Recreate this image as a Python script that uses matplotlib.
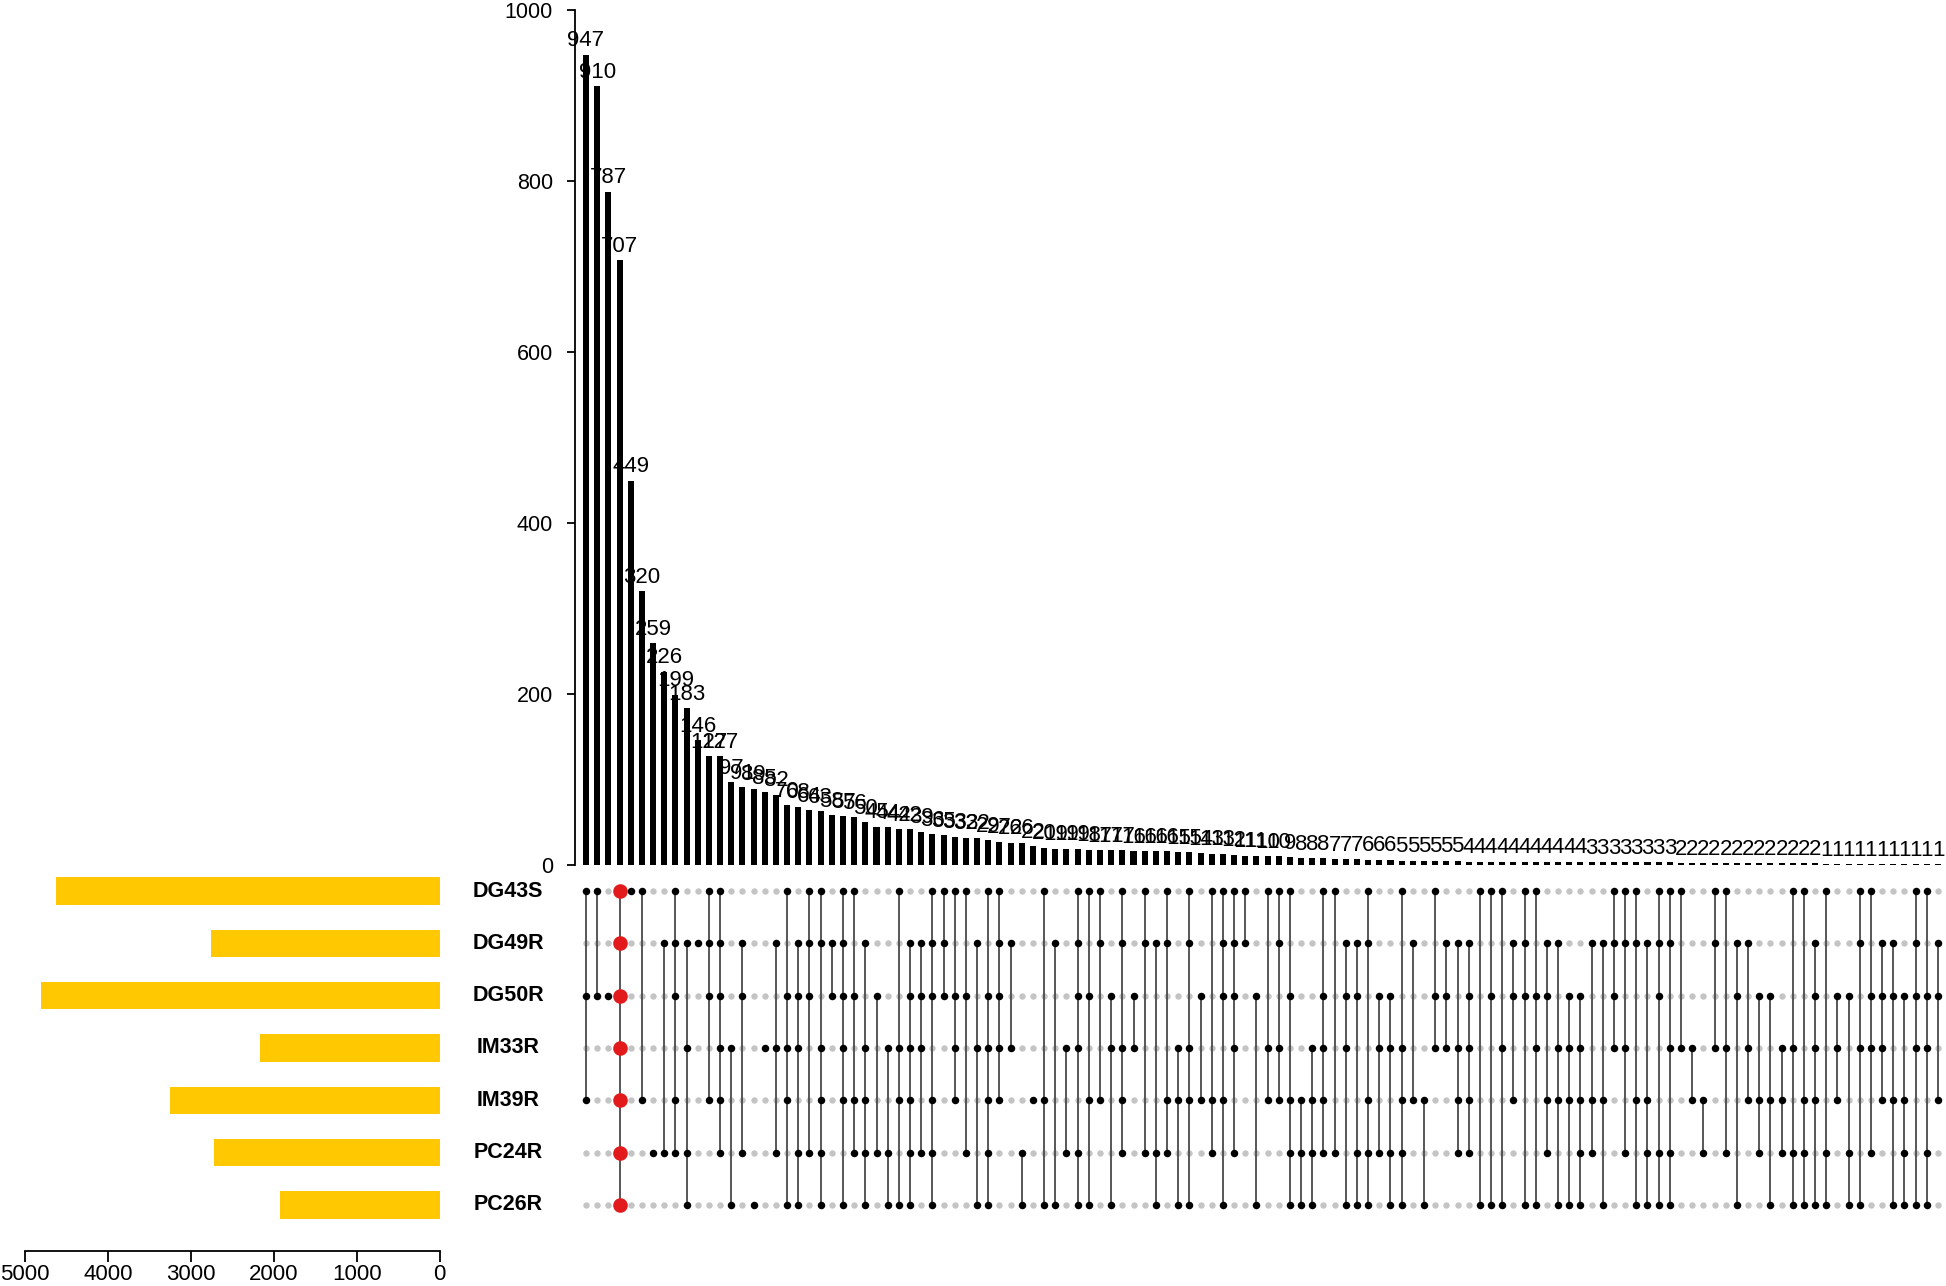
import matplotlib
matplotlib.use("Agg")
import matplotlib.pyplot as plt
import matplotlib.transforms as mtransforms

plt.rcParams['font.family'] = ['Liberation Sans', 'DejaVu Sans']

# set sizes (left bars)
set_names = ["DG43S", "DG49R", "DG50R", "IM33R", "IM39R", "PC24R", "PC26R"]
set_sizes = [4628, 2758, 4812, 2166, 3247, 2717, 1924]

# intersection sizes, in plotted order
counts = [947, 910, 787, 707, 449, 320, 259, 226, 199, 183,
          146, 127, 127, 97, 91, 89, 85, 82, 70, 68,
          64, 63, 58, 57, 56, 50, 45, 44, 42, 42,
          39, 36, 35, 33, 32, 32, 29, 27, 26, 26,
          22, 20, 19, 19, 19, 18, 17, 17, 17, 16,
          16, 16, 16, 15, 15, 14, 13, 13, 12, 11,
          11, 10, 10, 9, 8, 8, 8, 7, 7, 7,
          6, 6, 6, 5, 5, 5, 5, 5, 5, 4,
          4, 4, 4, 4, 4, 4, 4, 4, 4, 4,
          3, 3, 3, 3, 3, 3, 3, 3, 2, 2,
          2, 2, 2, 2, 2, 2, 2, 2, 2, 2,
          2, 1, 1, 1, 1, 1, 1, 1, 1, 1,
          1, 1]

# which intersections (column index) contain each set
members = {
    "DG43S": [0, 1, 3, 4, 5, 8, 11, 12, 18, 20, 21, 23, 24, 28, 31, 32, 33, 34, 36, 37,
              41, 44, 45, 46, 48, 50, 52, 54, 56, 57, 58, 59, 61, 62, 63, 66, 67, 70, 73, 76,
              80, 81, 82, 84, 85, 92, 93, 94, 96, 97, 98, 101, 102, 108, 109, 111, 114, 115,
              119, 120],
    "DG49R": [3, 7, 8, 9, 10, 11, 12, 14, 17, 19, 20, 21, 22, 23, 25, 29, 30, 31, 32, 35, 37, 38,
              42, 44, 46, 48, 50, 51, 52, 54, 57, 58, 59, 62, 68, 69, 70, 74, 77, 78, 79,
              83, 84, 86, 87, 90, 91, 92, 93, 94, 95, 96, 97, 101, 103, 104, 110, 114, 116,
              117, 119, 121],
    "DG50R": [0, 1, 2, 3, 8, 11, 12, 14, 18, 19, 20, 22, 23, 24, 26, 29, 30, 31, 32, 33, 34, 36, 37,
              44, 45, 47, 49, 55, 57, 58, 60, 63, 66, 68, 69, 71, 72, 76, 77, 79,
              81, 83, 84, 85, 86, 88, 89, 92, 96, 103, 105, 106, 110, 112, 113, 115, 116, 117,
              118, 119, 120, 121],
    "IM33R": [3, 9, 12, 13, 16, 17, 18, 19, 21, 23, 25, 27, 28, 29, 30, 33, 35, 36, 37, 38,
              43, 44, 47, 48, 49, 53, 54, 58, 61, 62, 65, 66, 68, 71, 72, 73, 76, 77, 78, 79,
              82, 85, 87, 88, 89, 92, 93, 97, 98, 99, 101, 102, 104, 107, 108, 110, 112, 114,
              115, 116, 119, 120],
    "IM39R": [0, 3, 5, 8, 11, 12, 18, 21, 23, 24, 25, 28, 29, 31, 33, 36, 37,
              40, 41, 45, 46, 48, 52, 53, 54, 55, 56, 57, 61, 62, 63, 64, 65, 66, 70, 73, 74, 75,
              78, 79, 83, 86, 87, 88, 89, 90, 91, 94, 95, 99, 100, 104, 105, 106, 107, 109, 110,
              112, 116, 117, 118, 121],
    "PC24R": [3, 6, 7, 8, 9, 12, 14, 17, 19, 20, 21, 24, 25, 26, 27, 29, 30, 31, 34, 36, 39,
              43, 44, 48, 50, 51, 52, 56, 58, 63, 64, 65, 66, 67, 69, 70, 71, 72, 73, 78, 79,
              86, 89, 90, 93, 95, 96, 97, 100, 102, 105, 107, 108, 109, 111, 113, 115, 118, 120],
    "PC26R": [3, 9, 13, 15, 18, 19, 21, 23, 25, 27, 28, 29, 31, 35, 36, 39,
              41, 42, 44, 45, 47, 51, 53, 54, 57, 60, 63, 64, 65, 68, 69, 70, 72, 73, 75,
              80, 81, 82, 84, 85, 87, 88, 89, 91, 94, 95, 96, 97, 103, 106, 108, 109, 110, 111,
              113, 114, 117, 118, 119, 120],
}
highlight = 3  # the all-sets intersection drawn in red

W, H = 1946, 1286
fig = plt.figure(figsize=(W / 100, H / 100), dpi=100)


def px_axes(x0, y0, x1, y1):
    return fig.add_axes([x0 / W, 1 - y1 / H, (x1 - x0) / W, (y1 - y0) / H])


n = len(counts)
step = (1938 - 586) / (n - 1)
xlim = (-(586 - 575) / step, (1946 - 586) / step)
xs = list(range(n))

# ---- intersection size bars
ax = px_axes(575, 9.5, 1946, 865)
ax.bar(xs, counts, width=0.54, color="black")
ax.set_xlim(*xlim)
ax.set_ylim(0, 1000)
for x, c in zip(xs, counts):
    ax.annotate(str(c), (x, c), xytext=(0, 2.5), textcoords="offset points",
                ha="center", va="bottom", fontsize=16, annotation_clip=False)
for s in ["top", "right", "bottom"]:
    ax.spines[s].set_visible(False)
ax.spines["left"].set_linewidth(1.3)
ax.set_xticks([])
ax.set_yticks([0, 200, 400, 600, 800, 1000])
ax.tick_params(axis="y", labelsize=15.5, length=6, width=1.3, pad=10)

# ---- matrix
axm = px_axes(575, 865, 1946, 1231)
axm.set_xlim(*xlim)
axm.set_ylim(6.5, -0.5)
axm.axis("off")
rows = list(range(len(set_names)))
for x in xs:
    ins = [r for r, name in enumerate(set_names) if x in members[name]]
    out = [r for r in rows if r not in ins]
    axm.plot([x] * len(out), out, "o", color="#c4c4c4", markersize=4.6, mec="none", zorder=1)
    if len(ins) > 1:
        axm.plot([x, x], [min(ins), max(ins)], color="#4a4a4a", lw=1.3, zorder=2)
    if x == highlight:
        axm.plot([x] * len(ins), ins, "o", color="#e31a1c", markersize=10.5, mec="none", zorder=3)
    else:
        axm.plot([x] * len(ins), ins, "o", color="black", markersize=5.4, mec="none", zorder=3)

# ---- set size bars
axs = px_axes(25, 865, 439.5, 1251)
axs.barh(rows, set_sizes, height=0.52, color="#ffc800")
axs.set_xlim(5000, 0)
row_px = 52.33
axs.set_ylim((1251 - 891) / row_px, -(891 - 865) / row_px)
for s in ["top", "right", "left"]:
    axs.spines[s].set_visible(False)
axs.spines["bottom"].set_linewidth(1.3)
axs.set_yticks([])
axs.set_xticks([5000, 4000, 3000, 2000, 1000, 0])
axs.tick_params(axis="x", labelsize=16, length=8, width=1.3, pad=1)

tr = mtransforms.blended_transform_factory(fig.transFigure, axs.transData)
for r, name in zip(rows, set_names):
    axs.text(508 / W, r, name, transform=tr, ha="center", va="center",
             fontsize=15.5, fontweight="bold")

fig.savefig("out.png", dpi=100)
